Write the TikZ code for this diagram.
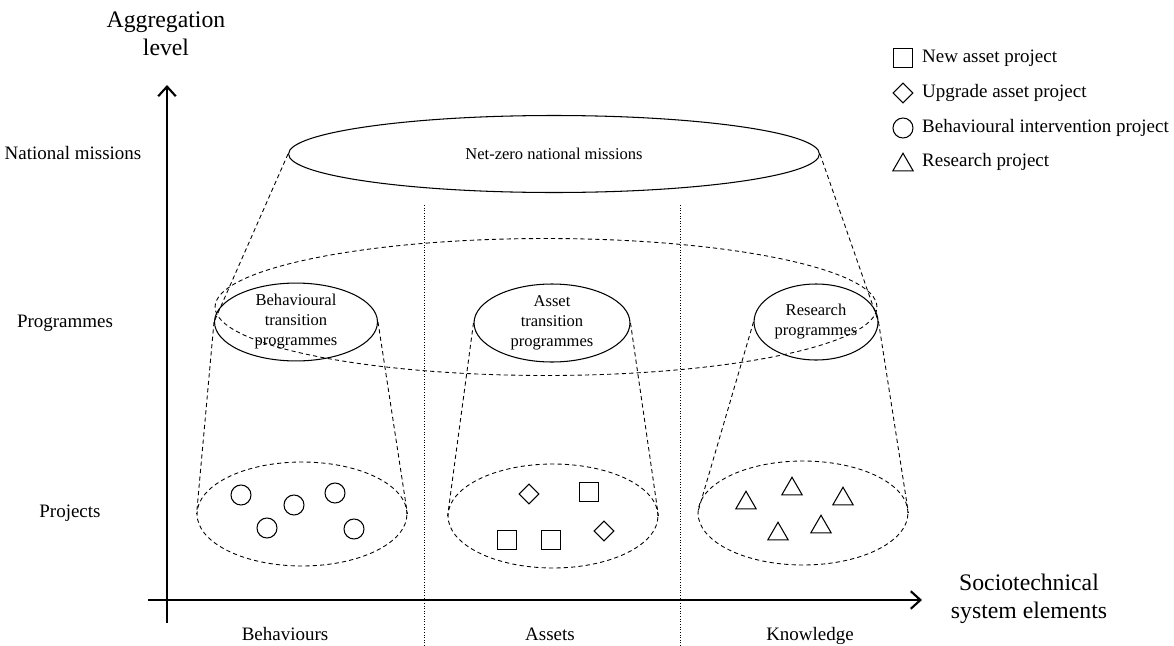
\documentclass[tikz,border=0pt]{standalone}
\usepackage{fontspec}
\setmainfont{Liberation Serif}
\usetikzlibrary{shapes.geometric}
\usetikzlibrary{arrows.meta}

\begin{document}
\begin{tikzpicture}[
    x=0.02cm, y=-0.02cm,
    every node/.append style={font=\fontsize{10.8}{12.5}\selectfont},
    axis/.style={line width=1.2pt},
    guide/.style={dash pattern=on 2.4pt off 1.8pt, line width=0.5pt},
    divider/.style={densely dotted, line width=0.5pt},
    oval/.style={ellipse, draw, line width=0.6pt, inner sep=0pt, align=center,
      font=\fontsize{9.4}{11.4}\selectfont},
    cluster/.style={ellipse, draw, guide, inner sep=0pt,
      minimum width=4.2cm, minimum height=2.08cm},
    bigword/.style={align=center, font=\fontsize{13.5}{16}\selectfont},
    element/.style={anchor=base},
    circ/.style={circle, draw, line width=0.6pt, inner sep=0pt, minimum size=0.4cm},
    sqr/.style={rectangle, draw, line width=0.6pt, inner sep=0pt, minimum size=0.38cm},
    dmd/.style={diamond, draw, line width=0.6pt, inner sep=0pt, minimum size=0.4cm},
    tri/.style={regular polygon, regular polygon sides=3, draw, line width=0.6pt,
      inner sep=0pt, minimum size=0.47cm},
  ]
  \useasboundingbox (0,0) rectangle (1174,646);

  % axes
  \coordinate (ybot) at (167,623);
  \coordinate (ytop) at (167,85);
  \coordinate (xleft) at (148,600);
  \coordinate (xright) at (922,600);
  \draw[axis, -{Straight Barb[length=5.5pt, width=10pt]}] (ybot) -- (ytop);
  \draw[axis, -{Straight Barb[length=5.5pt, width=10pt]}] (xleft) -- (xright);
  \node[bigword] (ylabel) at (166,34) {Aggregation\\level};
  \node[bigword] (xlabel) at (1029,599) {Sociotechnical\\system elements};

  % levels and elements
  \node (lmission) at (73,153) {National missions};
  \node (lprog) at (65,323) {Programmes};
  \node (lproj) at (70,513) {Projects};
  \node[element] (ebeh) at (285,640) {Behaviours};
  \node[element] (easset) at (550,640) {Assets};
  \node[element] (eknow) at (810,640) {Knowledge};

  % dividers
  \coordinate (d1top) at (424,205);
  \coordinate (d1bot) at (424,646);
  \coordinate (d2top) at (680,205);
  \coordinate (d2bot) at (680,646);
  \draw[divider] (d1top) -- (d1bot);
  \draw[divider] (d2top) -- (d2bot);

  % ellipses
  \node[oval, minimum width=10.62cm, minimum height=1.54cm] (mission) at (554,154)
    {Net-zero national missions};
  \node[ellipse, draw, guide, minimum width=13.24cm, minimum height=2.74cm] (allprog) at (546,307) {};
  \node[oval, minimum width=3.26cm, minimum height=1.54cm] (pbeh) at (296,322)
    {Behavioural\\transition\\programmes};
  \node[oval, minimum width=3.12cm, minimum height=1.56cm] (passet) at (552,323)
    {Asset\\transition\\programmes};
  \node[oval, minimum width=2.48cm, minimum height=1.52cm] (pknow) at (816,322)
    {Research\\programmes};
  \node[cluster] (cbeh) at (302,514) {};
  \node[cluster] (casset) at (553,516) {};
  \node[cluster] (cknow) at (803,513) {};

  \draw[guide] (mission.west) -- (pbeh.west);
  \draw[guide] (mission.east) -- (pknow.east);
  \draw[guide] (pbeh.west) -- (cbeh.west);
  \draw[guide] (pbeh.east) -- (cbeh.east);
  \draw[guide] (passet.west) -- (casset.west);
  \draw[guide] (passet.east) -- (casset.east);
  \draw[guide] (pknow.west) -- (cknow.west);
  \draw[guide] (pknow.east) -- (cknow.east);

  % projects
  \foreach \px/\py [count=\i] in {241/495, 294/505, 335/493, 267/528, 354/529}
    \node[circ] (b\i) at (\px,\py) {};
  \node[dmd] (a1) at (529,494) {};
  \node[sqr] (a2) at (589,492) {};
  \node[sqr] (a3) at (507,540) {};
  \node[sqr] (a4) at (551,540) {};
  \node[dmd] (a5) at (604,531) {};
  \foreach \px/\py [count=\i] in {746/503, 792/489, 843/499, 778/534, 821/527}
    \node[tri] (k\i) at (\px,\py) {};

  % legend
  \node[sqr] (keynew) at (903,58) {};
  \node[dmd] (keyup) at (903,93) {};
  \node[circ] (keybeh) at (903,128) {};
  \node[tri] (keyres) at (903,165) {};
  \node[anchor=west] (txtnew) at (916,58) {New asset project};
  \node[anchor=west] (txtup) at (916,93) {Upgrade asset project};
  \node[anchor=west] (txtbeh) at (916,128) {Behavioural intervention project};
  \node[anchor=west] (txtres) at (916,162) {Research project};
\end{tikzpicture}
\end{document}
